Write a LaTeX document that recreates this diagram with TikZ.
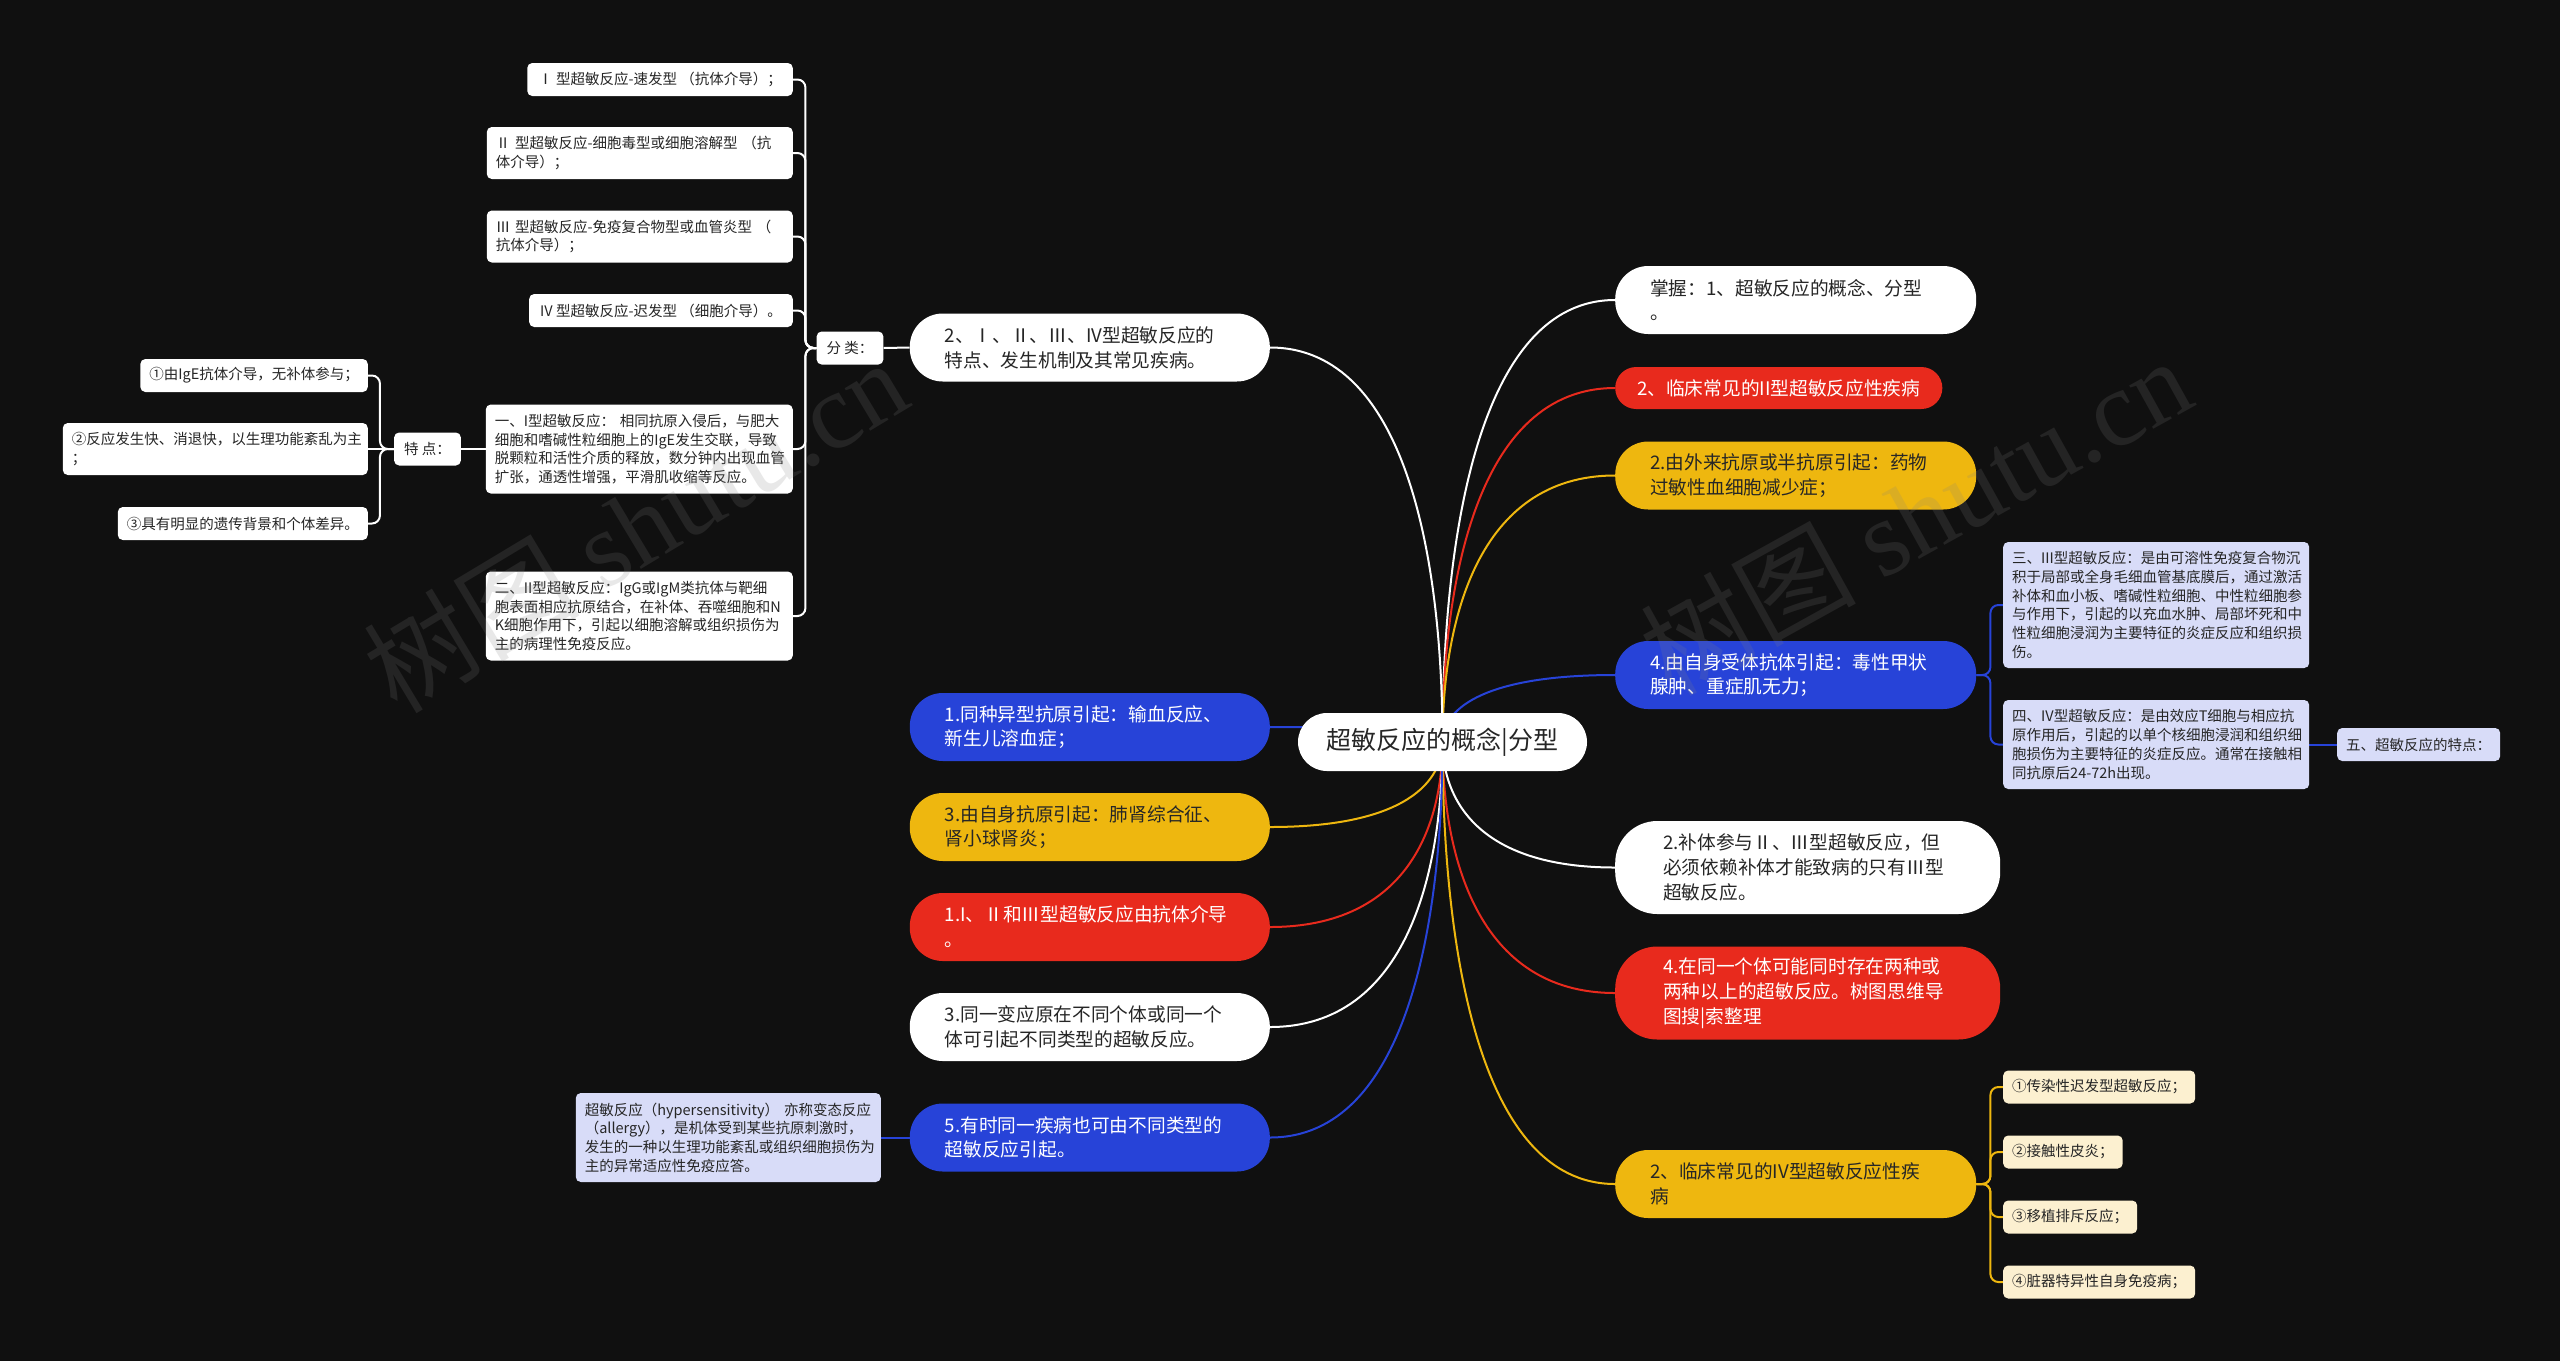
\documentclass[tikz,border=0pt]{standalone}
\usepackage{fontspec}
\setmainfont{Noto Sans CJK SC}
\newfontfamily\wmfont{Liberation Serif}
\usepackage{tikz}
\usetikzlibrary{backgrounds, calc}

\definecolor{bgblack}{HTML}{101010}
\definecolor{mmblue}{HTML}{2743D8}
\definecolor{mmred}{HTML}{E82A1D}
\definecolor{mmyellow}{HTML}{EEB70F}
\definecolor{mmlilac}{HTML}{D8DCF8}
\definecolor{mmcream}{HTML}{FCF0D0}
\definecolor{mmtext}{HTML}{262626}

\begin{document}
\begin{tikzpicture}[x=1pt, y=-1pt,
	big/.style={inner xsep=35pt, inner ysep=0pt, align=left, font=\fontsize{18.7}{24.8}\selectfont},
	one/.style={minimum height=42pt, rounded corners=21pt},
	two/.style={minimum height=68pt, rounded corners=33pt},
	three/.style={minimum height=93pt, rounded corners=42pt},
	wbox/.style={big, fill=white, text=mmtext},
	rbox/.style={big, fill=mmred, text=white},
	ybox/.style={big, fill=mmyellow, text=mmtext},
	bbox/.style={big, fill=mmblue, text=white},
	small/.style={rounded corners=5pt, inner xsep=9pt, inner ysep=0pt, align=left, text=mmtext, font=\fontsize{14.5}{18.7}\selectfont},
	rows1/.style={minimum height=33pt},
	rows2/.style={minimum height=52pt},
	rows4/.style={minimum height=89pt},
	rows6/.style={minimum height=126pt},
	sbox/.style={small, fill=white},
	lbox/.style={small, fill=mmlilac},
	cbox/.style={small, fill=mmcream},
	wline/.style={draw=white, line width=2pt},
	rline/.style={draw=mmred, line width=2pt},
	yline/.style={draw=mmyellow, line width=2pt},
	bline/.style={draw=mmblue, line width=2pt},
	brace/.style={rounded corners=8pt},
	branch/.style={to path={.. controls ($(\tikztostart)!.45!(\tikztostart |- \tikztotarget)$) and ($(\tikztotarget)!.8!(\tikztostart |- \tikztotarget)$) .. (\tikztotarget)}},
	wmark/.style={text=gray, opacity=0.18, font=\fontsize{108}{108}\selectfont}]
	\useasboundingbox (0,0) rectangle (2560,1361);
	% Root and first level:
	\node[fill=white, text=mmtext, rounded corners=29pt, minimum width=289pt, minimum height=58pt, inner sep=0pt, font=\fontsize{25}{30}\selectfont] (root) at (1442.5, 742) {超敏反应的概念|分型};
	\node[wbox, two, anchor=west, text width=291pt] (r1) at (1615, 300) {掌握：1、超敏反应的概念、分型\\。};
	\node[rbox, one, anchor=west, inner xsep=22pt] (r2) at (1615, 388) {2、临床常见的II型超敏反应性疾病};
	\node[ybox, two, anchor=west, text width=291pt] (r3) at (1615, 475.5) {2.由外来抗原或半抗原引起：药物\\过敏性血细胞减少症；};
	\node[bbox, two, anchor=west, text width=291pt] (r4) at (1615, 675) {4.由自身受体抗体引起：毒性甲状\\腺肿、重症肌无力；};
	\node[wbox, three, anchor=west, inner xsep=48pt, text width=289pt] (r5) at (1615, 867.5) {2.补体参与Ⅱ、Ⅲ型超敏反应，但\\必须依赖补体才能致病的只有Ⅲ型\\超敏反应。};
	\node[rbox, three, anchor=west, inner xsep=48pt, text width=289pt] (r6) at (1615, 993) {4.在同一个体可能同时存在两种或\\两种以上的超敏反应。树图思维导\\图搜|索整理};
	\node[ybox, two, anchor=west, text width=291pt] (r7) at (1615, 1184) {2、临床常见的IV型超敏反应性疾\\病};
	\node[wbox, two, anchor=east, text width=290pt] (l1) at (1270, 347.5) {2、Ⅰ、Ⅱ、Ⅲ、IV型超敏反应的\\特点、发生机制及其常见疾病。};
	\node[bbox, two, anchor=east, text width=290pt] (l2) at (1270, 727) {1.同种异型抗原引起：输血反应、\\新生儿溶血症；};
	\node[ybox, two, anchor=east, text width=290pt] (l3) at (1270, 827) {3.由自身抗原引起：肺肾综合征、\\肾小球肾炎；};
	\node[rbox, two, anchor=east, text width=290pt] (l4) at (1270, 927) {1.I、Ⅱ和Ⅲ型超敏反应由抗体介导\\。};
	\node[wbox, two, anchor=east, text width=290pt] (l5) at (1270, 1027) {3.同一变应原在不同个体或同一个\\体可引起不同类型的超敏反应。};
	\node[bbox, two, anchor=east, text width=290pt] (l6) at (1270, 1137.5) {5.有时同一疾病也可由不同类型的\\超敏反应引起。};
	% Right side leaves:
	\node[lbox, rows6, anchor=west, text width=288pt] (q3) at (2003, 605) {三、III型超敏反应：是由可溶性免疫复合物沉\\积于局部或全身毛细血管基底膜后，通过激活\\补体和血小板、嗜碱性粒细胞、中性粒细胞参\\与作用下，引起的以充血水肿、局部坏死和中\\性粒细胞浸润为主要特征的炎症反应和组织损\\伤。};
	\node[lbox, rows4, anchor=west, text width=288pt] (q4) at (2003, 744.5) {四、IV型超敏反应：是由效应T细胞与相应抗\\原作用后，引起的以单个核细胞浸润和组织细\\胞损伤为主要特征的炎症反应。通常在接触相\\同抗原后24-72h出现。};
	\node[lbox, rows1, anchor=west] (q5) at (2337, 744.5) {五、超敏反应的特点：};
	\node[cbox, rows1, anchor=west] (d1) at (2003, 1087) {①传染性迟发型超敏反应；};
	\node[cbox, rows1, anchor=west] (d2) at (2003, 1152) {②接触性皮炎；};
	\node[cbox, rows1, anchor=west] (d3) at (2003, 1217) {③移植排斥反应；};
	\node[cbox, rows1, anchor=west] (d4) at (2003, 1282) {④脏器特异性自身免疫病；};
	% Left side leaves:
	\node[sbox, rows1, inner xsep=10pt] (f0) at (850, 348) {分 类：};
	\node[sbox, rows1, anchor=east, inner xsep=11pt] (f1) at (793, 79.5) {Ⅰ 型超敏反应-速发型 （抗体介导）；};
	\node[sbox, rows2, anchor=east, text width=288pt] (f2) at (793, 153) {Ⅱ 型超敏反应-细胞毒型或细胞溶解型 （抗\\体介导）；};
	\node[sbox, rows2, anchor=east, text width=288pt] (f3) at (793, 236.5) {Ⅲ 型超敏反应-免疫复合物型或血管炎型 （\\抗体介导）；};
	\node[sbox, rows1, anchor=east, inner xsep=11pt] (f4) at (793, 310.5) {IV 型超敏反应-迟发型 （细胞介导）。};
	\node[sbox, rows4, anchor=east, text width=289pt] (f5) at (793, 449) {一、I型超敏反应： 相同抗原入侵后，与肥大\\细胞和嗜碱性粒细胞上的IgE发生交联，导致\\脱颗粒和活性介质的释放，数分钟内出现血管\\扩张，通透性增强，平滑肌收缩等反应。};
	\node[sbox, rows4, anchor=east, text width=289pt] (f6) at (793, 616) {二、II型超敏反应：IgG或IgM类抗体与靶细\\胞表面相应抗原结合，在补体、吞噬细胞和N\\K细胞作用下，引起以细胞溶解或组织损伤为\\主的病理性免疫反应。};
	\node[sbox, rows1, inner xsep=10pt] (t0) at (427.5, 449) {特 点：};
	\node[sbox, rows1, anchor=east] (t1) at (368, 375.5) {①由IgE抗体介导，无补体参与；};
	\node[sbox, rows2, anchor=east, text width=287pt] (t2) at (368, 449) {②反应发生快、消退快，以生理功能紊乱为主\\；};
	\node[sbox, rows1, anchor=east] (t3) at (368, 523.5) {③具有明显的遗传背景和个体差异。};
	\node[lbox, rows4, anchor=east, text width=287pt] (s1) at (881, 1137.5) {超敏反应（hypersensitivity） 亦称变态反应\\（allergy），是机体受到某些抗原刺激时，\\发生的一种以生理功能紊乱或组织细胞损伤为\\主的异常适应性免疫应答。};
	% Wires behind the boxes:
	\begin{scope}[on background layer]
		\fill[bgblack] (0,0) rectangle (2560,1361);
		\draw[wline] (root.center) to[branch] (r1.west);
		\draw[rline] (root.center) to[branch] (r2.west);
		\draw[yline] (root.center) to[branch] (r3.west);
		\draw[bline] (root.center) to[branch] (r4.west);
		\draw[wline] (root.center) to[branch] (r5.west);
		\draw[rline] (root.center) to[branch] (r6.west);
		\draw[yline] (root.center) to[branch] (r7.west);
		\draw[wline] (root.center) to[branch] (l1.east);
		\draw[bline] (root.center) to[branch] (l2.east);
		\draw[yline] (root.center) to[branch] (l3.east);
		\draw[rline] (root.center) to[branch] (l4.east);
		\draw[wline] (root.center) to[branch] (l5.east);
		\draw[bline] (root.center) to[branch] (l6.east);
		\draw[bline, brace] (r4.east) -- ++(14,0) |- (q3.west);
		\draw[bline, brace] (r4.east) -- ++(14,0) |- (q4.west);
		\draw[bline] (q4.east) -- (q5.west);
		\draw[yline, brace] (r7.east) -- ++(14,0) |- (d1.west);
		\draw[yline, brace] (r7.east) -- ++(14,0) |- (d2.west);
		\draw[yline, brace] (r7.east) -- ++(14,0) |- (d3.west);
		\draw[yline, brace] (r7.east) -- ++(14,0) |- (d4.west);
		\draw[wline] (l1.west) -- (f0.east);
		\draw[wline, brace] (f0.west) -- ++(-11,0) |- (f1.east);
		\draw[wline, brace] (f0.west) -- ++(-11,0) |- (f2.east);
		\draw[wline, brace] (f0.west) -- ++(-11,0) |- (f3.east);
		\draw[wline, brace] (f0.west) -- ++(-11,0) |- (f4.east);
		\draw[wline, brace] (f0.west) -- ++(-11,0) |- (f5.east);
		\draw[wline, brace] (f0.west) -- ++(-11,0) |- (f6.east);
		\draw[wline] (f5.west) -- (t0.east);
		\draw[wline, brace] (t0.west) -- ++(-14,0) |- (t1.east);
		\draw[wline] (t0.west) -- (t2.east);
		\draw[wline, brace] (t0.west) -- ++(-14,0) |- (t3.east);
		\draw[bline] (l6.west) -- (s1.east);
	\end{scope}
	% Watermarks:
	\node[wmark, rotate=31] (wm1) at (635, 525) {树图 {\wmfont shutu.cn}};
	\node[wmark, rotate=29] (wm2) at (1915, 515) {树图 {\wmfont shutu.cn}};
\end{tikzpicture}
\end{document}
